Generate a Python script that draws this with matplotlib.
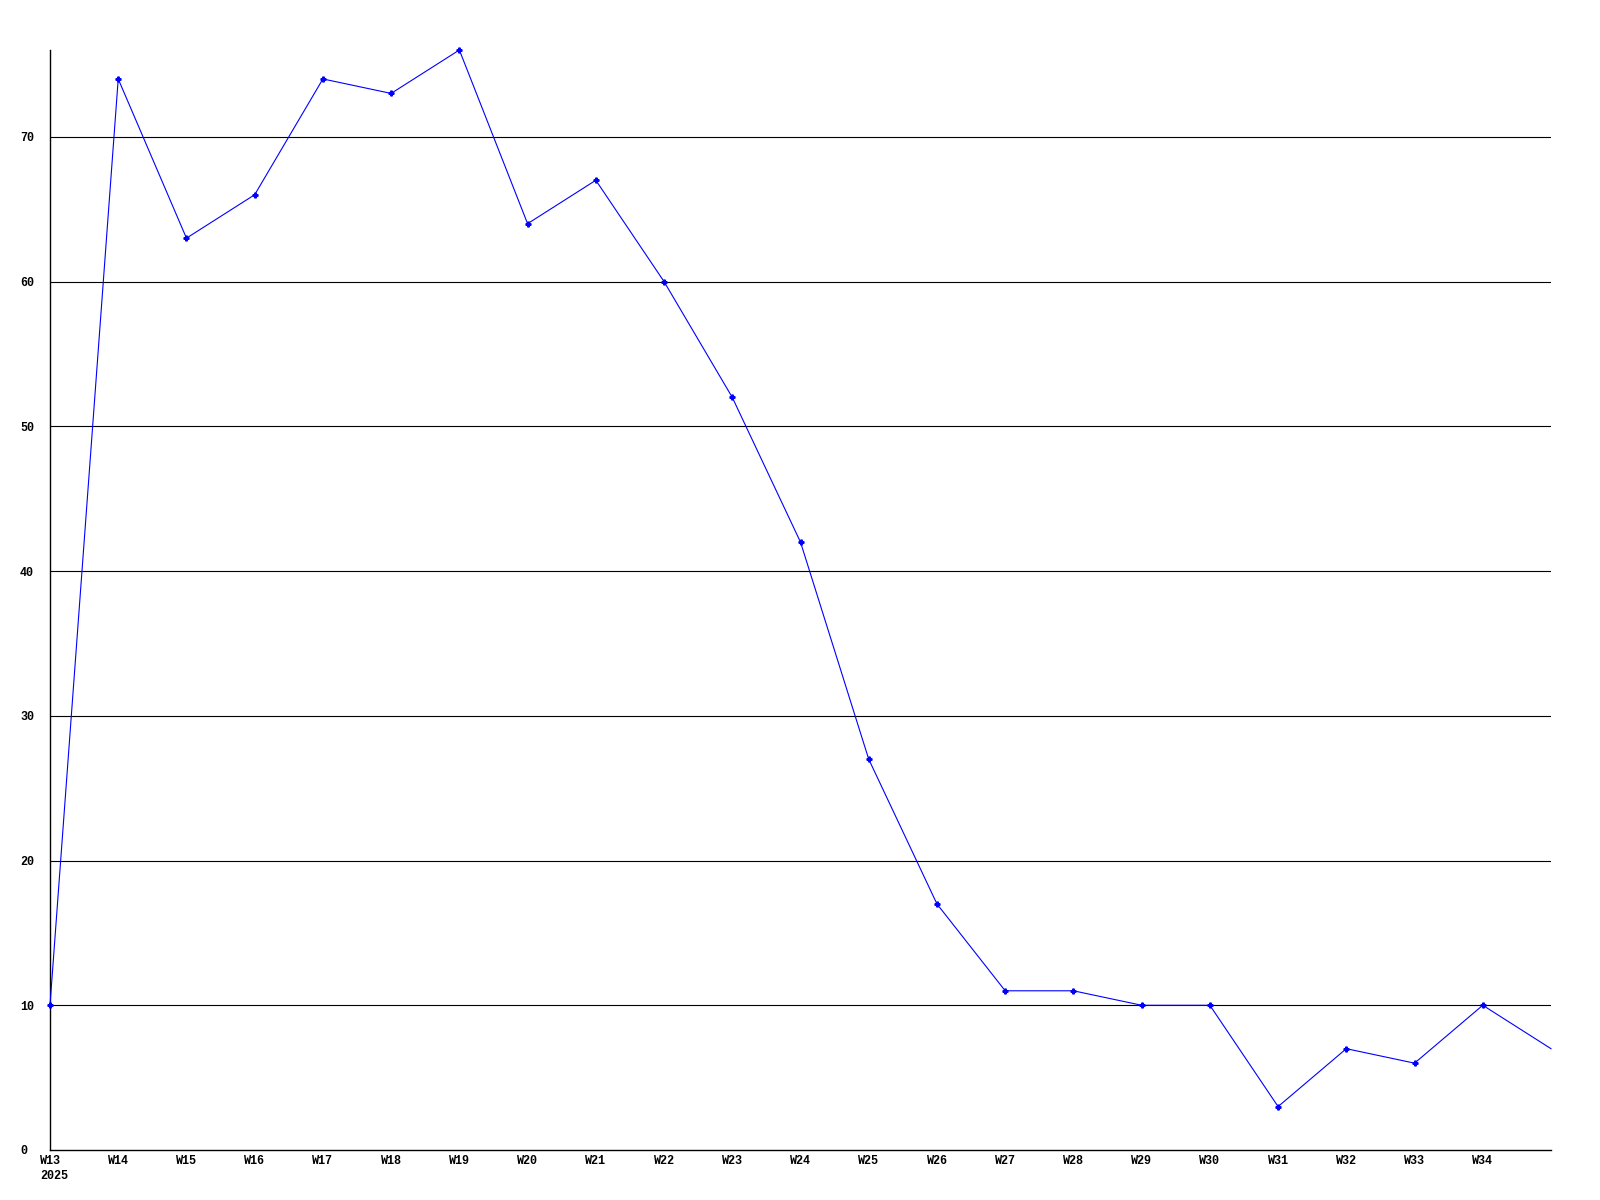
import matplotlib
matplotlib.use("Agg")
import matplotlib.pyplot as plt

# weekly values, W13..W35
weeks = [f"W{n}" for n in range(13, 36)]
values = [10, 74, 63, 66, 74, 73, 76, 64, 67, 60, 52, 42, 27, 17, 11, 11, 10, 10, 3, 7, 6, 10, 7]
y_ticks = [0, 10, 20, 30, 40, 50, 60, 70]
year_label = "2025"

font = {"family": ["Liberation Mono", "DejaVu Sans Mono"], "weight": "bold", "size": 8.5}

fig = plt.figure(figsize=(16, 12), dpi=100)
ax = fig.add_axes([50 / 1600, 50 / 1200, 1501 / 1600, 1100 / 1200])

x = list(range(len(weeks)))
# last point sits on the right edge, drawn without a marker
ax.plot(x, values, color="#0000ff", linewidth=0.8, marker="P", markersize=3.5,
        markevery=list(range(len(x) - 1)), zorder=3, clip_on=False)

ax.set_xlim(0, len(weeks) - 1)
ax.set_ylim(0, 76)

for v in y_ticks[1:]:
    ax.axhline(v, color="black", linewidth=0.8, zorder=1)

ax.set_xticks(x[:-1])
ax.set_xticklabels(weeks[:-1], fontdict=font)
ax.set_yticks(y_ticks)
ax.set_yticklabels([str(v) for v in y_ticks], fontdict=font)
for lbl in ax.get_yticklabels():
    lbl.set_ha("left")
ax.tick_params(axis="y", length=0, pad=21.6)
ax.tick_params(axis="x", length=0, pad=3.5)

ax.text(-10 / 1501, -20 / 1100, year_label, transform=ax.transAxes,
        ha="left", va="top", fontdict=font)

for side in ["top", "right"]:
    ax.spines[side].set_visible(False)
for side in ["left", "bottom"]:
    ax.spines[side].set_color("black")
    ax.spines[side].set_linewidth(1.0)

fig.savefig("out.png", dpi=100)
